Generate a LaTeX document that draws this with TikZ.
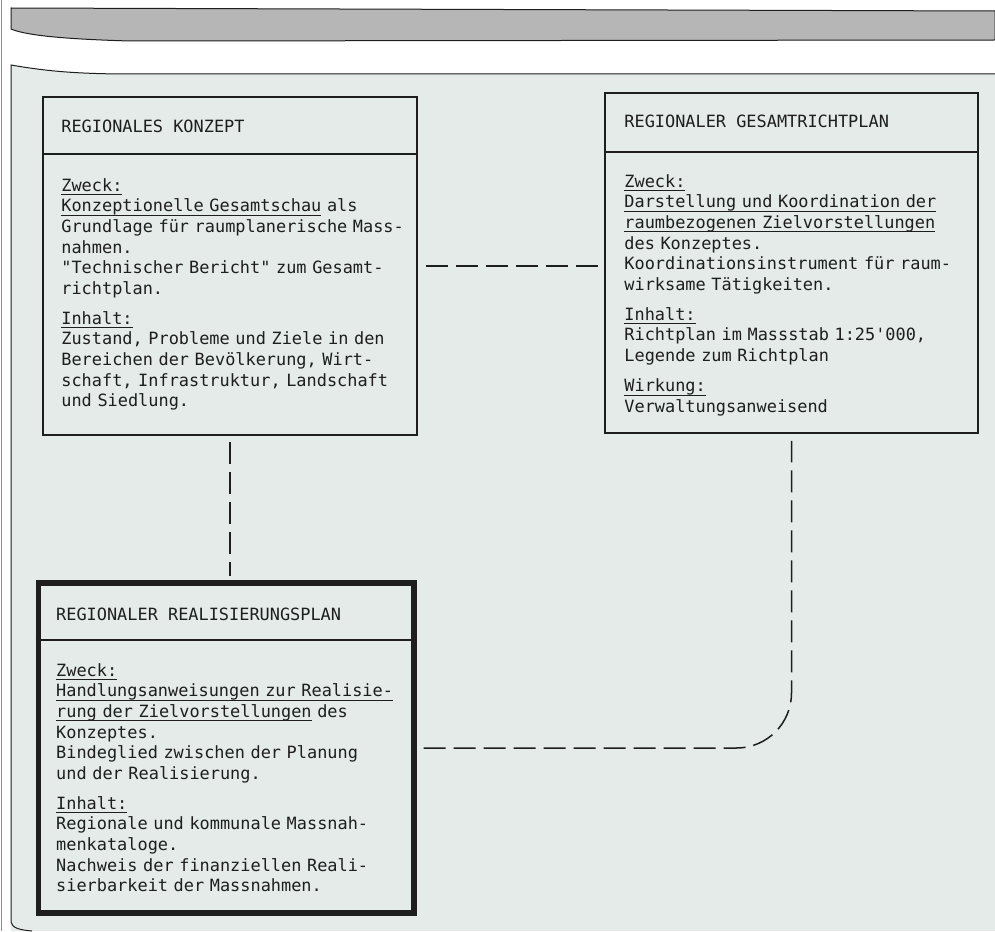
\documentclass[tikz,border=0pt]{standalone}
\usepackage{fontspec}
\setmonofont{DejaVu Sans Mono}
\newcommand{\strich}[1]{\leavevmode\setbox0\hbox{#1}\rlap{\rule[-4pt]{\wd0}{1pt}}\box0\relax}

\begin{document}
\begin{tikzpicture}[x=1pt, y=-1pt,
  box/.style={draw=ink, line width=1.6pt, inner sep=0pt},
  titel/.style={anchor=base west, inner sep=0pt, text=ink, font=\ttfamily\fontsize{16.9}{20.6}\selectfont},
  inhalt/.style={titel, text width=360pt, align=left},
  link/.style={draw=ink, line width=1.5pt, dash pattern=on 22pt off 8pt}]

% Scan colours
\definecolor{ink}{RGB}{30,30,30}
\definecolor{papier}{RGB}{228,235,232}
\definecolor{raster}{RGB}{182,182,182}
\definecolor{rand}{RGB}{140,140,140}

\useasboundingbox (0,0) rectangle (995,931);

% Page background
\draw[rand, line width=1pt] (1.5,0) -- (1.5,931);
\filldraw[fill=raster, draw=ink, line width=1pt] (11,8) -- (995,11) -- (995,40) -- (130,41) .. controls (60,39) and (25,35) .. (11,29) -- cycle;
\fill[papier] (11,65) .. controls (40,70) and (70,74) .. (130,74) -- (995,74) -- (995,931) -- (11,931) -- cycle;
\draw[ink, line width=1pt] (995,74) -- (130,74) .. controls (70,74) and (40,70) .. (11,65) -- (11,922) .. controls (12,928) and (20,930) .. (32,931);

% REGIONALES KONZEPT
\node[box, minimum width=374pt, minimum height=338pt] (konzept) at (230,266) {};
\draw[ink, line width=1.6pt] ([shift={(0,58)}]konzept.north west) -- ([shift={(0,58)}]konzept.north east);
\node[titel] (konzept-titel) at ([shift={(19,36)}]konzept.north west) {REGIONALES KONZEPT};
\node[inhalt] (konzept-text) at ([shift={(19,95)}]konzept.north west) {\strich{Zweck:}\\
\strich{Konzeptionelle Gesamtschau} als\\
Grundlage für raumplanerische Mass-\\
nahmen.\\
"Technischer Bericht" zum Gesamt-\\
richtplan.\\[9.5pt]
\strich{Inhalt:}\\
Zustand, Probleme und Ziele in den\\
Bereichen der Bevölkerung, Wirt-\\
schaft, Infrastruktur, Landschaft\\
und Siedlung.};

% REGIONALER GESAMTRICHTPLAN
\node[box, minimum width=373pt, minimum height=340pt] (richtplan) at (791.5,263) {};
\draw[ink, line width=1.6pt] ([shift={(0,60)}]richtplan.north west) -- ([shift={(0,60)}]richtplan.north east);
\node[titel] (richtplan-titel) at ([shift={(20,35)}]richtplan.north west) {REGIONALER GESAMTRICHTPLAN};
\node[inhalt] (richtplan-text) at ([shift={(20,95)}]richtplan.north west) {\strich{Zweck:}\\
\strich{Darstellung und Koordination der}\\
\strich{raumbezogenen Zielvorstellungen}\\
des Konzeptes.\\
Koordinationsinstrument für raum-\\
wirksame Tätigkeiten.\\[9.5pt]
\strich{Inhalt:}\\
Richtplan im Massstab 1:25'000,\\
Legende zum Richtplan\\[9.5pt]
\strich{Wirkung:}\\
Verwaltungsanweisend};

% REGIONALER REALISIERUNGSPLAN (thick frame)
\node[box, line width=5.5pt, minimum width=375.5pt, minimum height=330pt] (realplan) at (226,748) {};
\draw[ink, line width=1.6pt] ([shift={(0,60)}]realplan.north west) -- ([shift={(0,60)}]realplan.north east);
\node[titel] (realplan-titel) at ([shift={(20.5,40)}]realplan.north west) {REGIONALER REALISIERUNGSPLAN};
\node[inhalt] (realplan-text) at ([shift={(20.5,96)}]realplan.north west) {\strich{Zweck:}\\
\strich{Handlungsanweisungen zur Realisie-}\\
\strich{rung der Zielvorstellungen} des\\
Konzeptes.\\
Bindeglied zwischen der Planung\\
und der Realisierung.\\[9.5pt]
\strich{Inhalt:}\\
Regionale und kommunale Massnah-\\
menkataloge.\\
Nachweis der finanziellen Reali-\\
sierbarkeit der Massnahmen.};

% Dashed links
\draw[link, shorten <=8pt, shorten >=5pt] (konzept.east) -- (konzept.east -| richtplan.west);
\draw[link, shorten <=6pt, shorten >=4pt] (konzept.south) -- (konzept.south |- realplan.north);
\draw[link, rounded corners=55pt, shorten <=7pt, shorten >=7pt] (realplan.east) -| (richtplan.south);

\end{tikzpicture}
\end{document}
